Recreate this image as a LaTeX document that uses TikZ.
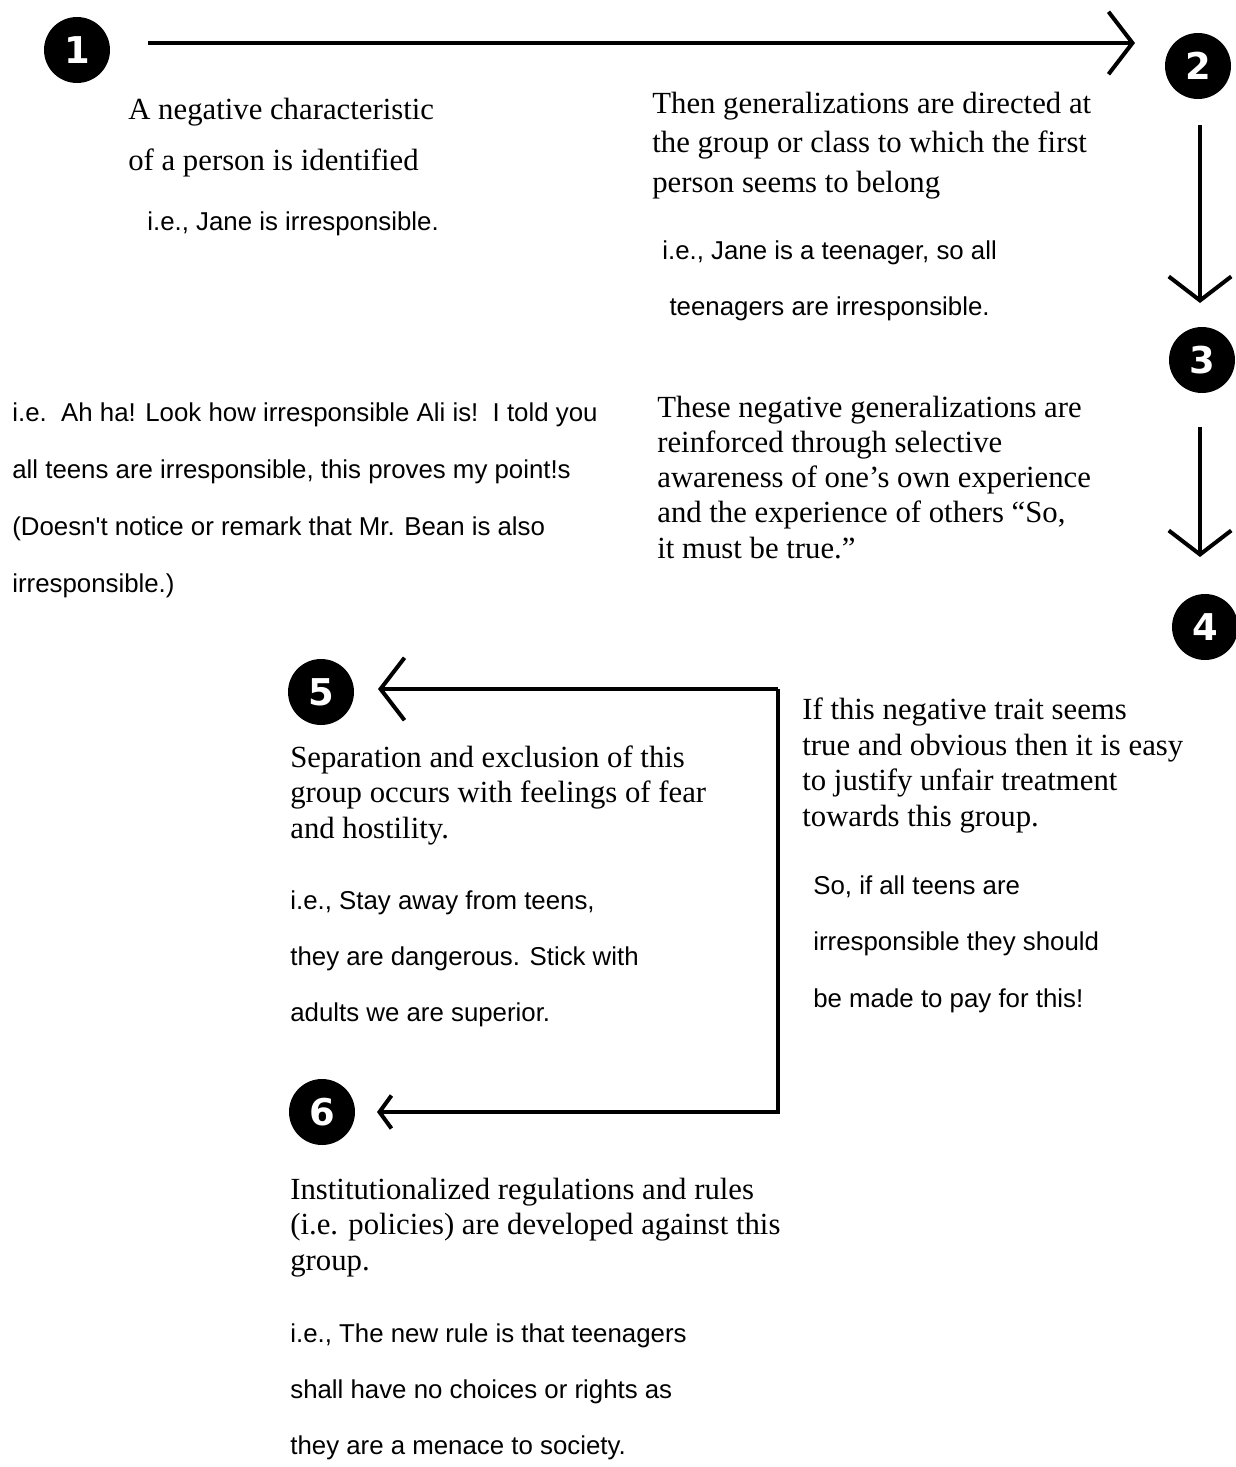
\documentclass[tikz,border=0pt]{standalone}
\usepackage{fontspec}
\setmainfont{Liberation Serif}
\newfontfamily\sansfnt{Liberation Sans}
\newfontfamily\chiffrefnt{DejaVu Sans}
\usetikzlibrary{arrows.meta}

\tikzset{rond/.style = {circle, fill=black, text=white, minimum size=1.32cm, inner sep=0pt,
                        font=\chiffrefnt\bfseries\fontsize{21}{21}\selectfont},
         texte/.style = {anchor=base west, align=left, inner sep=0pt,
                         font=\fontsize{17.5}{#1}\selectfont},
         texte/.default=20,
         exemple/.style = {anchor=base west, align=left, inner sep=0pt,
                           font=\sansfnt\fontsize{14.7}{#1}\selectfont},
         exemple/.default=31.8,
         fleche/.style = {line width=0.08cm, -{Straight Barb[length=0.48cm,width=1.25cm]}},
         petite/.style = {line width=0.08cm, -{Straight Barb[length=0.24cm,width=0.66cm]}}
        }

\begin{document}
\begin{tikzpicture}[x=0.02cm, y=-0.02cm]
\useasboundingbox (0,0) rectangle (1235,1467);
% les pastilles
\node[rond] at (77,50) (n1) {1};
\node[rond] at (1198,66) (n2) {2};
\node[rond] at (1202,360) (n3) {3};
\node[rond] at (1205,627) (n4) {4};
\node[rond] at (321,692) (n5) {5};
\node[rond] at (322,1112) (n6) {6};
% les fleches
\coordinate (d1) at (148,43);
\coordinate (f1) at (1135,43);
\coordinate (d2) at (1200,125);
\coordinate (f2) at (1200,303);
\coordinate (d3) at (1200,427);
\coordinate (f3) at (1200,557);
\coordinate (c1) at (778,689);
\coordinate (c2) at (778,1112);
\coordinate (f5) at (378,689);
\coordinate (f6) at (377,1112);
\draw[fleche] (d1) -- (f1);
\draw[fleche] (d2) -- (f2);
\draw[fleche] (d3) -- (f3);
\draw[fleche] (c1) -- (f5);
\draw[petite] (c1) -- (c2) -- (f6);
% les textes (base = derniere ligne)
\node[texte=28.5] at (128,170) (t1) {A negative characteristic\\of a person is identified};
\node[exemple] at (147,230) (e1) {i.e., Jane is irresponsible.};
\node[texte=22.2] at (652,192) (t2) {Then generalizations are directed at\\the group or class to which the first\\person seems to belong};
\node[exemple] at (662,315) (e2) {i.e., Jane is a teenager, so all\\\ teenagers are irresponsible.};
\node[exemple=32.4] at (12,592) (e3) {i.e.\ \ Ah ha! Look how irresponsible Ali is!\ \ I told you\\all teens are irresponsible, this proves my point!s\\(Doesn't notice or remark that Mr. Bean is also\\irresponsible.)};
\node[texte=20] at (657,558) (t3) {These negative generalizations are\\reinforced through selective\\awareness of one’s own experience\\and the experience of others “So,\\it must be true.”};
\node[texte=20.2] at (802,826) (t4) {If this negative trait seems\\true and obvious then it is easy\\to justify unfair treatment\\towards this group.};
\node[exemple=32.1] at (813,1007) (e4) {So, if all teens are\\irresponsible they should\\be made to pay for this!};
\node[texte=20] at (290,838) (t5) {Separation and exclusion of this\\group occurs with feelings of fear\\and hostility.};
\node[exemple] at (290,1021) (e5) {i.e., Stay away from teens,\\they are dangerous. Stick with\\adults we are superior.};
\node[texte=20.2] at (290,1270) (t6) {Institutionalized regulations and rules\\(i.e. policies) are developed against this\\group.};
\node[exemple] at (290,1454) (e6) {i.e., The new rule is that teenagers\\shall have no choices or rights as\\they are a menace to society.};
\end{tikzpicture}
\end{document}
